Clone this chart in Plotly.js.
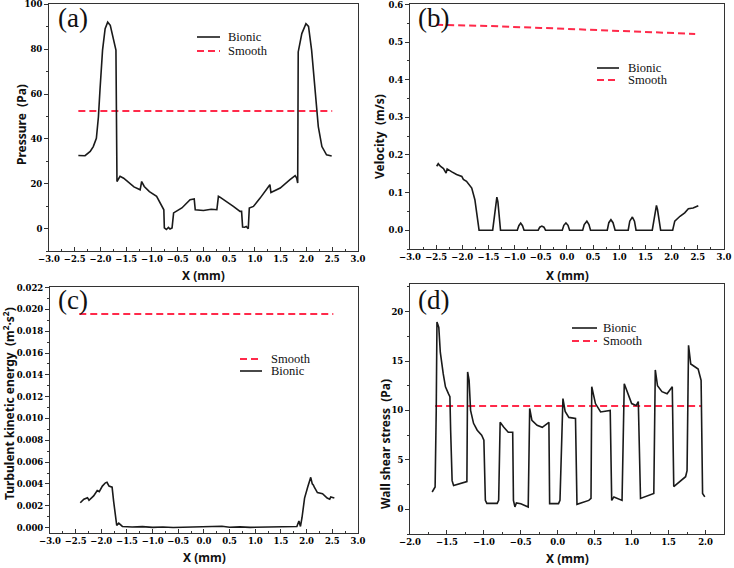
<!DOCTYPE html>
<html>
<head>
<meta charset="utf-8">
<script src="https://cdn.plot.ly/plotly-3.0.1.min.js"></script>
<style>html,body{margin:0;padding:0;background:#fff;}#chart{width:734px;height:568px;}</style>
</head>
<body>
<div id="chart"></div>
<script>
// ---------- Panel (a): Pressure ----------
var aBionicX = [-2.43,-2.30,-2.20,-2.14,-2.08,-2.04,-2.01,-1.96,-1.91,-1.86,-1.81,-1.75,-1.70,-1.68,-1.65,-1.62,-1.55,-1.45,-1.35,-1.23,-1.20,-1.15,-1.05,-0.91,-0.79,-0.77,-0.76,-0.72,-0.68,-0.65,-0.61,-0.58,-0.42,-0.26,-0.18,-0.16,0.00,0.15,0.26,0.29,0.32,0.45,0.58,0.71,0.74,0.76,0.80,0.83,0.87,0.89,0.97,1.10,1.26,1.29,1.31,1.49,1.68,1.78,1.81,1.83,1.84,1.91,1.99,2.04,2.10,2.17,2.23,2.30,2.39,2.49];
var aBionicY = [32.6,32.5,34.4,36.6,40.3,49.9,61.8,79.6,89.2,92.1,90.7,84.0,79.6,21.0,22.5,23.3,22.5,20.5,18.6,17.3,21.0,18.8,16.5,14.4,9.2,8.4,0.3,-0.4,0.5,-0.2,0.3,7.0,9.2,12.9,13.2,8.4,8.1,8.6,8.4,14.4,14.0,12.1,9.9,7.7,7.7,0.7,0.6,0.9,-0.1,9.2,9.9,13.6,18.5,19.6,16.1,18.1,21.8,23.6,22.5,20.3,78.8,87.0,91.4,90.2,79.6,61.8,45.5,36.6,32.9,32.4];
var aSmoothX = [-2.43, 2.50];
var aSmoothY = [52.5, 52.5];

// ---------- Panel (b): Velocity ----------
var bBionicX = [-2.49,-2.46,-2.42,-2.36,-2.31,-2.29,-2.20,-2.11,-2.01,-1.98,-1.92,-1.82,-1.76,-1.73,-1.69,-1.68,-1.42,-1.39,-1.36,-1.34,-1.32,-1.29,-1.27,-0.95,-0.92,-0.885,-0.85,-0.82,-0.55,-0.52,-0.48,-0.44,-0.41,-0.09,-0.06,-0.02,0.02,0.05,0.30,0.33,0.38,0.42,0.45,0.77,0.80,0.84,0.88,0.92,1.17,1.20,1.25,1.29,1.32,1.63,1.66,1.69,1.71,1.73,1.76,1.79,2.02,2.06,2.16,2.25,2.32,2.41,2.51];
var bBionicY = [0.170,0.177,0.170,0.164,0.152,0.163,0.155,0.148,0.143,0.135,0.130,0.112,0.081,0.055,0.011,0.000,0.000,0.040,0.080,0.088,0.075,0.030,0.000,0.000,0.012,0.019,0.012,0.000,0.000,0.008,0.011,0.008,0.000,0.000,0.013,0.019,0.013,0.000,0.000,0.015,0.024,0.015,0.000,0.000,0.020,0.028,0.020,0.000,0.000,0.024,0.035,0.024,0.000,0.000,0.030,0.060,0.066,0.055,0.025,0.000,0.000,0.024,0.037,0.046,0.057,0.059,0.065];
var bSmoothX = [-2.50, -1.50, -0.50, 0.50, 1.50, 2.45];
var bSmoothY = [0.546, 0.543, 0.538, 0.533, 0.527, 0.522];

// ---------- Panel (c): Turbulent kinetic energy ----------
var cBionicX = [-2.41,-2.34,-2.27,-2.24,-2.15,-2.08,-2.04,-2.02,-1.98,-1.92,-1.89,-1.85,-1.79,-1.76,-1.72,-1.70,-1.66,-1.59,-1.40,-1.20,-1.00,-0.80,-0.60,-0.40,-0.20,0.00,0.20,0.35,0.50,0.70,0.90,1.10,1.30,1.50,1.70,1.81,1.85,1.88,1.91,1.96,2.02,2.06,2.08,2.11,2.13,2.15,2.21,2.31,2.40,2.45,2.47,2.54];
var cBionicY = [0.00227,0.0026,0.00274,0.0025,0.0029,0.0034,0.0033,0.0035,0.0038,0.0041,0.00415,0.0038,0.0037,0.0024,0.0009,0.0002,0.0004,0.0001,0.00005,0.00008,0.00002,0.00005,0.00001,0.00003,0.00005,0.00008,0.00006,0.00012,0.00003,0.00006,0.00002,0.00005,0.00004,0.00007,0.00008,0.0001,0.0006,0.0001,0.0009,0.0027,0.0037,0.0042,0.0046,0.0040,0.0039,0.0037,0.0032,0.0031,0.0027,0.0026,0.0028,0.0027];
var cSmoothX = [-2.43, 2.52];
var cSmoothY = [0.01957, 0.01957];

// ---------- Panel (d): Wall shear stress ----------
var dBionicX = [-1.70,-1.66,-1.645,-1.635,-1.61,-1.59,-1.55,-1.52,-1.48,-1.46,-1.45,-1.43,-1.41,-1.23,-1.22,-1.20,-1.18,-1.14,-1.09,-1.03,-1.00,-0.98,-0.96,-0.82,-0.80,-0.78,-0.73,-0.67,-0.61,-0.60,-0.58,-0.56,-0.50,-0.40,-0.38,-0.35,-0.28,-0.21,-0.12,-0.11,0.01,0.03,0.07,0.10,0.15,0.24,0.26,0.42,0.45,0.46,0.51,0.58,0.71,0.73,0.76,0.87,0.90,0.94,1.00,1.06,1.09,1.12,1.30,1.32,1.35,1.41,1.48,1.55,1.57,1.73,1.75,1.77,1.80,1.86,1.90,1.94,1.96,1.99];
var dBionicY = [1.75,2.26,10.0,18.95,18.4,15.9,13.7,12.4,11.7,11.4,8.0,2.9,2.4,2.8,13.9,13.05,10.0,8.7,8.0,7.5,7.0,0.9,0.6,0.6,0.9,8.8,8.3,7.8,7.8,0.9,0.24,0.64,0.57,0.24,10.2,9.0,8.5,8.3,8.8,0.57,0.57,0.9,11.2,9.9,9.3,9.2,0.5,0.9,1.1,12.4,10.7,9.85,10.0,0.9,1.25,0.9,12.7,11.9,10.7,10.5,10.9,1.1,1.6,14.1,12.5,11.9,11.7,12.4,2.3,3.3,3.9,16.6,14.7,14.4,14.2,13.05,1.6,1.25];
var dSmoothX = [-1.66, 1.95];
var dSmoothY = [10.46, 10.46];

// ---------- Text ----------
var panelLabels = ['(a)', '(b)', '(c)', '(d)'];
var yTitles = ['Pressure\u00a0\u00a0(Pa)', 'Velocity\u00a0\u00a0(m/s)', 'Turbulent kinetic energy\u00a0\u00a0(m<sup>2</sup>\u00b7s<sup>2</sup>)', 'Wall shear stress\u00a0\u00a0(Pa)'];
var xTitle = 'X (mm)';
var seriesNames = ['Bionic', 'Smooth'];

// ---------- Layout helpers ----------
var W = 734, H = 568;
function px(x) { return x / W; }
function py(y) { return 1 - y / H; }

var black = '#1a1a1a';
var red = '#ff2a4a';
var tickFont = {family: 'DejaVu Serif', size: 8.5, color: '#000', weight: 'bold'};
var titleFont = {family: 'Noto Sans', size: 12, color: '#111', weight: 'bold'};
var legFont = {family: 'Liberation Serif', size: 12.5, color: '#111'};

function bl(x, y, xa, ya) {
  return {x: x, y: y, xaxis: xa, yaxis: ya, type: 'scatter', mode: 'lines', name: seriesNames[0],
    line: {color: black, width: 1.6}, showlegend: false, hoverinfo: 'skip'};
}
function sm(x, y, xa, ya) {
  return {x: x, y: y, xaxis: xa, yaxis: ya, type: 'scatter', mode: 'lines', name: seriesNames[1],
    line: {color: red, width: 2, dash: '7px,4px'}, showlegend: false, hoverinfo: 'skip'};
}

var data = [
  sm(aSmoothX, aSmoothY, 'x', 'y'), bl(aBionicX, aBionicY, 'x', 'y'),
  sm(bSmoothX, bSmoothY, 'x2', 'y2'), bl(bBionicX, bBionicY, 'x2', 'y2'),
  sm(cSmoothX, cSmoothY, 'x3', 'y3'), bl(cBionicX, cBionicY, 'x3', 'y3'),
  sm(dSmoothX, dSmoothY, 'x4', 'y4'), bl(dBionicX, dBionicY, 'x4', 'y4')
];

function xax(domain, range, anchor) {
  return {domain: domain, range: range, anchor: anchor, dtick: 0.5, tick0: 0, tickformat: '.1f',
    ticks: 'inside', ticklen: 4, tickcolor: '#333', tickwidth: 1,
    minor: {ticks: 'inside', ticklen: 2.5, dtick: 0.25, tickcolor: '#333'},
    showline: true, linecolor: '#333', linewidth: 1, mirror: true, showgrid: false, zeroline: false,
    tickfont: {family: 'DejaVu Serif', size: 8.5, color: '#000', weight: 'bold'},
    ticklabeloverflow: 'allow'};
}
function yax(domain, range, anchor, dtick, fmt, mdtick) {
  return {domain: domain, range: range, anchor: anchor, dtick: dtick, tick0: 0, tickformat: fmt,
    ticks: 'outside', ticklen: 4, tickcolor: '#333', tickwidth: 1,
    minor: {ticks: 'outside', ticklen: 2.5, dtick: mdtick, tickcolor: '#333'},
    showline: true, linecolor: '#333', linewidth: 1, mirror: true, showgrid: false, zeroline: false,
    tickfont: {family: 'DejaVu Serif', size: 8.5, color: '#000', weight: 'bold'},
    ticklabeloverflow: 'allow'};
}

var ann = [];
var panelPos = [[73, 18], [433, 18], [73, 300], [433, 300]];
panelPos.forEach(function (p, i) {
  ann.push({xref: 'paper', yref: 'paper', x: px(p[0]), y: py(p[1]), xanchor: 'center', yanchor: 'middle',
    text: panelLabels[i], showarrow: false, font: {family: 'Liberation Serif', size: 27, color: '#111'}});
});
var xtPos = [[203.5, 275], [567, 275], [204, 557], [567, 558]];
xtPos.forEach(function (p) {
  ann.push({xref: 'paper', yref: 'paper', x: px(p[0]), y: py(p[1]), xanchor: 'center', yanchor: 'middle',
    text: xTitle, showarrow: false, font: titleFont});
});
var ytPos = [[22, 125], [380, 137], [9, 404], [385, 444]];
ytPos.forEach(function (p, i) {
  ann.push({xref: 'paper', yref: 'paper', x: px(p[0]), y: py(p[1]), xanchor: 'center', yanchor: 'middle',
    text: yTitles[i], textangle: -90, showarrow: false, font: titleFont});
});

// legends: [sampleX0, sampleX1, textX, row1Y, row2Y, order]
var legends = [
  [197, 220, 227, 37, 51, [0, 1]],
  [597, 619, 627, 68, 80, [0, 1]],
  [240, 262, 270, 359, 371, [1, 0]],
  [572, 597, 602, 328, 341, [0, 1]]
];
var shapes = [];
legends.forEach(function (L) {
  [L[3], L[4]].forEach(function (yy, r) {
    var s = L[5][r];
    shapes.push({type: 'line', xref: 'paper', yref: 'paper', x0: px(L[0]), x1: px(L[1]), y0: py(yy), y1: py(yy),
      line: s === 0 ? {color: black, width: 1.6} : {color: red, width: 2, dash: '7px,4px'}});
    ann.push({xref: 'paper', yref: 'paper', x: px(L[2]), y: py(yy), xanchor: 'left', yanchor: 'middle',
      text: seriesNames[s], showarrow: false, font: legFont, borderpad: 0});
  });
});

var layout = {
  width: W, height: H, margin: {l: 0, r: 0, t: 0, b: 0},
  paper_bgcolor: '#fff', plot_bgcolor: '#fff', showlegend: false,
  xaxis: xax([px(49), px(358)], [-3, 3.001], 'y'),
  yaxis: yax([py(251), py(4)], [-10, 100.2], 'x', 20, 'd', 10),
  xaxis2: xax([px(410), px(724)], [-3, 3.001], 'y2'),
  yaxis2: yax([py(249), py(4)], [-0.05, 0.6015], 'x2', 0.1, '.1f', 0.05),
  xaxis3: xax([px(50), px(358)], [-3, 3.001], 'y3'),
  yaxis3: yax([py(533), py(287)], [-0.0005, 0.02205], 'x3', 0.002, '.3f', 0.001),
  xaxis4: xax([px(410), px(724)], [-2, 2.25], 'y4'),
  yaxis4: yax([py(534), py(284)], [-2.5, 22.8], 'x4', 5, 'd', 2.5),
  annotations: ann,
  shapes: shapes
};

Plotly.newPlot('chart', data, layout, {displayModeBar: false});
</script>
</body>
</html>
